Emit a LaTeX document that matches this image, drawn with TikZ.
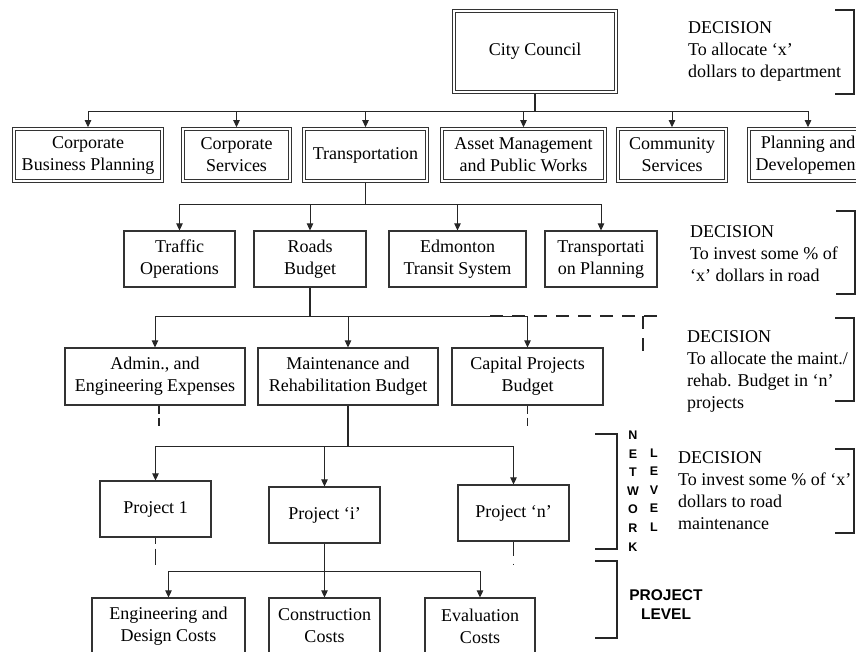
\documentclass[tikz,border=0pt]{standalone}
\usepackage{fontspec}
\setmainfont{Liberation Serif}
\newfontfamily\hv{Liberation Sans}
\usetikzlibrary{arrows.meta}
\begin{document}
\begin{tikzpicture}[x=1pt,y=-1pt,
  sbox/.style={draw=black!80,line width=1.2pt,minimum height=56pt,inner sep=0pt,
    align=center,font=\fontsize{18}{22}\selectfont,text=black},
  dbox/.style={sbox,double,double distance=2.4pt,line width=0.9pt,outer sep=2pt},
  arr/.style={draw=black!85,line width=1pt,-{Triangle[length=7pt,width=6.5pt]}},
  stem/.style={draw=black!85,line width=1.8pt},
  dsh/.style={draw=black!85,line width=1.8pt,dash pattern=on 13pt off 9pt},
  dsh2/.style={draw=black!85,line width=1.6pt,dash pattern=on 8pt off 4pt},
  brk/.style={draw=black!85,line width=1.5pt},
  dec/.style={anchor=west,align=left,inner sep=0pt,font=\fontsize{18}{22}\selectfont,text=black},
  lvl/.style={inner sep=0pt,align=center,text=black}]
\useasboundingbox (0,0) rectangle (856,651);
\clip (0,0) rectangle (856,651);

% level 0
\node[dbox,minimum width=161.7pt,minimum height=80.7pt] (cc) at (535,51.5) {City Council};
% level 1
\node[dbox,minimum width=147.7pt,minimum height=51.7pt] (cbp) at (88,155) {Corporate\\Business Planning};
\node[dbox,minimum width=106.7pt,minimum height=51.7pt] (cs) at (236.5,155) {Corporate\\Services};
\node[dbox,minimum width=122.7pt,minimum height=51.7pt] (trans) at (365.5,155) {Transportation};
\node[dbox,minimum width=162.7pt,minimum height=51.7pt] (ampw) at (523.5,155) {Asset Management\\and Public Works};
\node[dbox,minimum width=107.7pt,minimum height=51.7pt] (comm) at (672,155) {Community\\Services};
\node[dbox,minimum width=117.7pt,minimum height=51.7pt] (plan) at (808,155) {Planning and\\Developement};
% level 2
\node[sbox,minimum width=111pt] (traf) at (179.5,259) {Traffic\\Operations};
\node[sbox,minimum width=112pt] (roads) at (310,259) {Roads\\Budget};
\node[sbox,minimum width=137pt] (edm) at (457.5,259) {Edmonton\\Transit System};
\node[sbox,minimum width=112pt] (tpl) at (601,259) {Transportati\\on Planning};
% level 3
\node[sbox,minimum width=180pt,minimum height=57pt] (adm) at (155,376.5) {Admin., and\\Engineering Expenses};
\node[sbox,minimum width=180pt,minimum height=57pt] (mnt) at (348,376.5) {Maintenance and\\Rehabilitation Budget};
\node[sbox,minimum width=151pt,minimum height=57pt] (cap) at (527.5,376.5) {Capital Projects\\Budget};
% level 4
\node[sbox,minimum width=111pt] (p1) at (155.5,509) {Project 1};
\node[sbox,minimum width=111pt] (pi) at (324.5,515) {Project ‘i’};
\node[sbox,minimum width=111pt] (pn) at (513.5,513) {Project ‘n’};
% level 5
\node[sbox,minimum width=153pt] (eng) at (168.5,626) {Engineering and\\Design Costs};
\node[sbox,minimum width=111pt] (con) at (324.5,626) {Construction\\Costs};
\node[sbox,minimum width=110pt] (eva) at (480,626) {Evaluation\\Costs};

% connectors
\coordinate (b1) at (cc.south |- 0,111);
\draw[stem] (cc.south) -- (b1);
\foreach \n in {cbp,cs,trans,ampw,comm,plan} \draw[arr] (b1) -| (\n.north);

\coordinate (b2) at (trans.south |- 0,204);
\draw[stem] (trans.south) -- (b2);
\foreach \n in {traf,roads,edm,tpl} \draw[arr] (b2) -| (\n.north);

\coordinate (b3) at (roads.south |- 0,316);
\draw[stem] (roads.south) -- (b3);
\foreach \n in {adm,mnt,cap} \draw[arr] (b3) -| (\n.north);
\coordinate (d1) at (657,316);
\coordinate (d2) at (488,316);
\coordinate (d3) at (643,316);
\coordinate (d4) at (643,351);
\draw[dsh] (d1) -- (d2);
\draw[dsh] (d3) -- (d4);

\coordinate (ae) at ([xshift=4pt]adm.south |- 0,428);
\draw[dsh2] ([xshift=4pt]adm.south) -- (ae);
\coordinate (ce) at (cap.south |- 0,428);
\draw[dsh2] (cap.south) -- (ce);

\coordinate (b4) at (mnt.south |- 0,446);
\draw[stem] (mnt.south) -- (b4);
\foreach \n in {p1,pi,pn} \draw[arr] (b4) -| (\n.north);

\coordinate (p1e) at (p1.south |- 0,565);
\draw[draw=black!85,line width=1.6pt,dash pattern=on 6pt off 5pt on 20pt off 5pt] (p1.south) -- (p1e);
\coordinate (pne) at (pn.south |- 0,565);
\draw[draw=black!85,line width=1.4pt,dash pattern=on 14pt off 8pt on 1.5pt off 5pt] (pn.south) -- (pne);

\coordinate (b5) at (pi.south |- 0,571);
\draw[stem] (pi.south) -- (b5);
\foreach \n in {eng,con,eva} \draw[arr] (b5) -| (\n.north);

% decision texts
\node[dec] (dec1) at (688,51) {DECISION\\To allocate ‘x’\\dollars to department};
\node[dec] (dec2) at (690,253.5) {DECISION\\To invest some \% of\\‘x’ dollars in road};
\node[dec] (dec3) at (687,371) {DECISION\\To allocate the maint./\\rehab. Budget in ‘n’\\projects};
\node[dec] (dec4) at (678,491) {DECISION\\To invest some \% of ‘x’\\dollars to road\\maintenance};

% brackets
\draw[brk] (835,10) -- (854,10) -- (854,94) -- (835,94);
\draw[brk] (836,211) -- (855,211) -- (855,294) -- (836,294);
\draw[brk] (835,318) -- (854,318) -- (854,401) -- (835,401);
\draw[brk] (835,449) -- (854,449) -- (854,533) -- (835,533);
\draw[brk] (595,434) -- (617,434) -- (617,549) -- (595,549);
\draw[brk] (595,561) -- (617,561) -- (617,638) -- (595,638);

% level labels
\node[lvl,font=\hv\bfseries\fontsize{12.5}{18.6}\selectfont] (net) at (633,491) {N\\E\\T\\W\\O\\R\\K};
\node[lvl,font=\hv\bfseries\fontsize{12.5}{18.6}\selectfont] (lev) at (654,490) {L\\E\\V\\E\\L};
\node[lvl,font=\hv\bfseries\fontsize{15.5}{19}\selectfont] (plev) at (666,604.5) {PROJECT\\LEVEL};
\end{tikzpicture}
\end{document}
